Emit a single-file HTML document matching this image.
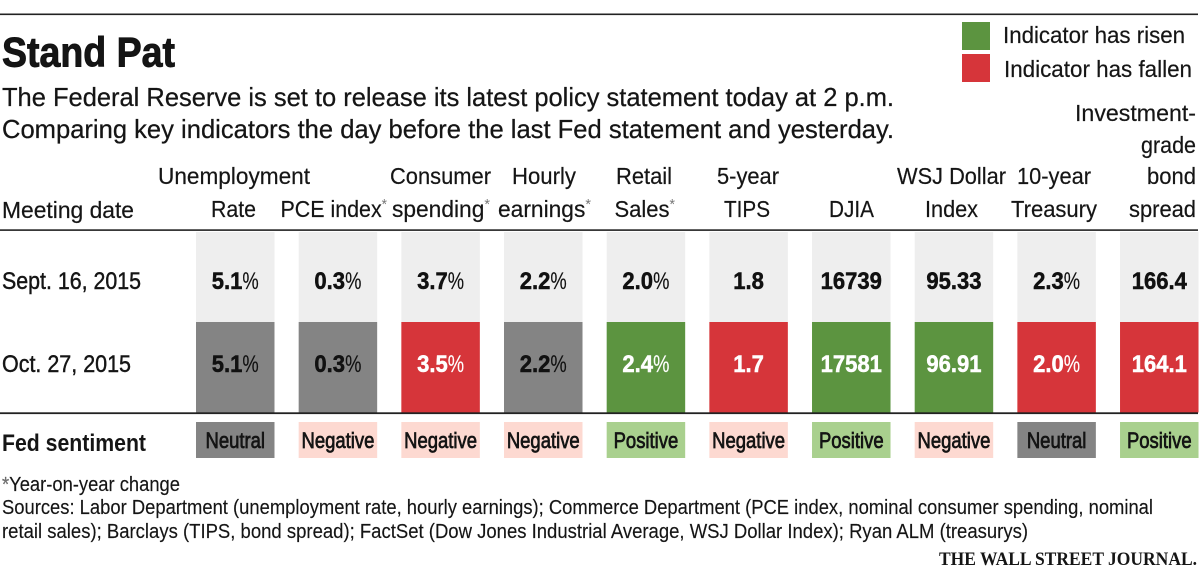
<!DOCTYPE html>
<html lang="en">
<head>
<meta charset="utf-8">
<title>Stand Pat</title>
<style>
html,body{margin:0;padding:0;background:#fff;width:1200px;height:570px;overflow:hidden}
svg{display:block}
text{font-family:"Liberation Sans",Arial,sans-serif;fill:#151515}
.hd{font-size:23.5px;stroke:#151515;stroke-width:.2px}
.sub{font-size:26px;stroke:#151515;stroke-width:.25px}
.ft{font-size:20.5px;stroke:#151515;stroke-width:.15px}
.ast{font-size:15px;fill:#777;stroke:none}
</style>
</head>
<body>
<svg id="chart" xmlns="http://www.w3.org/2000/svg" width="1200" height="570" viewBox="0 0 1200 570">
  <rect x="0" y="13.5" width="1198" height="1.6" fill="#222"/>
  <text x="2" y="66.5" font-size="42" font-weight="700" stroke="#111" stroke-width="0.9" textLength="173" lengthAdjust="spacingAndGlyphs">Stand Pat</text>
  <text class="sub" x="2" y="106" textLength="892" lengthAdjust="spacingAndGlyphs">The Federal Reserve is set to release its latest policy statement today at 2 p.m.</text>
  <text class="sub" x="2" y="138" textLength="892" lengthAdjust="spacingAndGlyphs">Comparing key indicators the day before the last Fed statement and yesterday.</text>

  <g>
    <rect x="962" y="22" width="28" height="28" fill="#5c9440"/>
    <text class="hd" x="1003" y="43" textLength="182" lengthAdjust="spacingAndGlyphs">Indicator has risen</text>
    <rect x="962" y="54" width="28" height="28" fill="#d6353a"/>
    <text class="hd" x="1004" y="77" textLength="188" lengthAdjust="spacingAndGlyphs">Indicator has fallen</text>
  </g>

  <g>
    <text class="hd" x="2" y="218" textLength="132" lengthAdjust="spacingAndGlyphs">Meeting date</text>
    <text class="hd" x="158" y="184" textLength="152" lengthAdjust="spacingAndGlyphs">Unemployment</text>
    <text class="hd" x="211" y="217" textLength="45" lengthAdjust="spacingAndGlyphs">Rate</text>
    <text class="hd" x="280.5" y="217" textLength="106.5" lengthAdjust="spacingAndGlyphs">PCE index<tspan class="ast" dy="-8">*</tspan></text>
    <text class="hd" x="390" y="184" textLength="101" lengthAdjust="spacingAndGlyphs">Consumer</text>
    <text class="hd" x="392" y="217" textLength="98" lengthAdjust="spacingAndGlyphs">spending<tspan class="ast" dy="-8">*</tspan></text>
    <text class="hd" x="512" y="184" textLength="64" lengthAdjust="spacingAndGlyphs">Hourly</text>
    <text class="hd" x="498" y="217" textLength="93" lengthAdjust="spacingAndGlyphs">earnings<tspan class="ast" dy="-8">*</tspan></text>
    <text class="hd" x="616" y="184" textLength="56" lengthAdjust="spacingAndGlyphs">Retail</text>
    <text class="hd" x="614.5" y="217" textLength="60.5" lengthAdjust="spacingAndGlyphs">Sales<tspan class="ast" dy="-8">*</tspan></text>
    <text class="hd" x="717" y="184" textLength="62" lengthAdjust="spacingAndGlyphs">5-year</text>
    <text class="hd" x="724" y="217" textLength="46" lengthAdjust="spacingAndGlyphs">TIPS</text>
    <text class="hd" x="829" y="217" textLength="45" lengthAdjust="spacingAndGlyphs">DJIA</text>
    <text class="hd" x="897" y="184" textLength="109" lengthAdjust="spacingAndGlyphs">WSJ Dollar</text>
    <text class="hd" x="925" y="217" textLength="53" lengthAdjust="spacingAndGlyphs">Index</text>
    <text class="hd" x="1017" y="184" textLength="74" lengthAdjust="spacingAndGlyphs">10-year</text>
    <text class="hd" x="1011" y="217" textLength="86" lengthAdjust="spacingAndGlyphs">Treasury</text>
    <text class="hd" x="1075" y="121" textLength="121" lengthAdjust="spacingAndGlyphs">Investment-</text>
    <text class="hd" x="1141" y="153" textLength="55" lengthAdjust="spacingAndGlyphs">grade</text>
    <text class="hd" x="1147" y="184" textLength="49" lengthAdjust="spacingAndGlyphs">bond</text>
    <text class="hd" x="1129" y="217" textLength="67" lengthAdjust="spacingAndGlyphs">spread</text>
  </g>

  <g id="cells"></g>

  <rect x="0" y="229.3" width="1198" height="1.6" fill="#222"/>
  <rect x="0" y="412.3" width="1198" height="1.8" fill="#222"/>

  <text x="2" y="289" font-size="24.5" stroke="#151515" stroke-width="0.45" textLength="139" lengthAdjust="spacingAndGlyphs">Sept. 16, 2015</text>
  <text x="2" y="372" font-size="24.5" stroke="#151515" stroke-width="0.45" textLength="129" lengthAdjust="spacingAndGlyphs">Oct. 27, 2015</text>
  <text x="2" y="451" font-size="24" font-weight="700" textLength="144" lengthAdjust="spacingAndGlyphs">Fed sentiment</text>

  <text class="ft" x="2" y="491" textLength="178" lengthAdjust="spacingAndGlyphs"><tspan fill="#777" style="fill:#777">*</tspan>Year-on-year change</text>
  <text class="ft" x="2" y="514" textLength="1151" lengthAdjust="spacingAndGlyphs">Sources: Labor Department (unemployment rate, hourly earnings); Commerce Department (PCE index, nominal consumer spending, nominal</text>
  <text class="ft" x="2" y="538" textLength="1026" lengthAdjust="spacingAndGlyphs">retail sales); Barclays (TIPS, bond spread); FactSet (Dow Jones Industrial Average, WSJ Dollar Index); Ryan ALM (treasurys)</text>
  <text x="939" y="565" font-size="19" font-weight="700" textLength="258" lengthAdjust="spacingAndGlyphs" style="font-family:'Liberation Serif',serif">THE WALL STREET JOURNAL.</text>
</svg>
<script>
const indicators = ["unemployment", "pce-index", "consumer-spending", "hourly-earnings", "retail-sales", "tips", "djia", "dollar-index", "treasury", "bond-spread"];
const sept2015 = ["5.1%", "0.3%", "3.7%", "2.2%", "2.0%", "1.8", "16739", "95.33", "2.3%", "166.4"];
const oct2015 = ["5.1%", "0.3%", "3.5%", "2.2%", "2.4%", "1.7", "17581", "96.91", "2.0%", "164.1"];
const sentiment = ["Neutral", "Negative", "Negative", "Negative", "Positive", "Negative", "Positive", "Negative", "Neutral", "Positive"];

const NS = "http://www.w3.org/2000/svg";
const root = document.getElementById("cells");
const sentimentFill = { Neutral: "#848484", Negative: "#fdd9d1", Positive: "#a9d08e" };
const DIGIT_SCALE = 0.9;
const PERCENT_SCALE = 0.75;

function colX(i) { return 196 + i * 102.67; }
function moveFill(a, b) {
  const d = parseFloat(b) - parseFloat(a);
  return d > 0 ? "#5c9440" : d < 0 ? "#d6353a" : "#848484";
}
function addRect(x, y, w, h, fill, name) {
  const r = document.createElementNS(NS, "rect");
  r.setAttribute("x", x);
  r.setAttribute("y", y);
  r.setAttribute("width", w);
  r.setAttribute("height", h);
  r.setAttribute("fill", fill);
  
  
  root.appendChild(r);
}
function addValue(cx, y, str, color, name) {
  const pct = str.endsWith("%");
  const t = document.createElementNS(NS, "text");
  t.setAttribute("font-size", "24.5");
  t.setAttribute("font-weight", "700");
  t.setAttribute("stroke", color);
  t.setAttribute("stroke-width", "0.5");
  t.style.fill = color;
  
  
  t.textContent = pct ? str.slice(0, -1) : str;
  root.appendChild(t);
  const digitWidth = t.getComputedTextLength() * DIGIT_SCALE;
  if (!pct) {
    t.setAttribute("transform", "translate(" + (cx - digitWidth / 2) + "," + y + ") scale(" + DIGIT_SCALE + ",1)");
    return;
  }
  const p = document.createElementNS(NS, "text");
  p.setAttribute("font-size", "24.5");
  p.setAttribute("stroke", color);
  p.setAttribute("stroke-width", "0.15");
  p.style.fill = color;
  
  
  p.textContent = "%";
  root.appendChild(p);
  const percentWidth = p.getComputedTextLength() * PERCENT_SCALE;
  const left = cx - (digitWidth + percentWidth) / 2;
  t.setAttribute("transform", "translate(" + left + "," + y + ") scale(" + DIGIT_SCALE + ",1)");
  p.setAttribute("transform", "translate(" + (left + digitWidth) + "," + y + ") scale(" + PERCENT_SCALE + ",1)");
}
function addSentiment(cx, y, str, name) {
  const t = document.createElementNS(NS, "text");
  t.setAttribute("transform", "translate(" + cx + "," + y + ") scale(0.84,1)");
  t.setAttribute("text-anchor", "middle");
  t.setAttribute("font-size", "22");
  t.setAttribute("stroke", "#111");
  t.setAttribute("stroke-width", "0.7");
  
  
  t.textContent = str;
  root.appendChild(t);
}

indicators.forEach(function (key, i) {
  const x = colX(i);
  const w = 78.5;
  const cx = x + w / 2;
  const fill = moveFill(sept2015[i], oct2015[i]);
  addRect(x, 232, w, 90, "#eeeeee", key + "-sept-cell");
  addRect(x, 322, w, 90.5, fill, key + "-oct-cell");
  addValue(cx, 289, sept2015[i], "#111", key + "-sept-value");
  addValue(cx, 372, oct2015[i], fill === "#848484" ? "#111" : "#fff", key + "-oct-value");
  addRect(x, 422, w, 36, sentimentFill[sentiment[i]], key + "-sentiment-cell");
  addSentiment(cx, 448, sentiment[i], key + "-sentiment-label");
});
</script>
</body>
</html>
